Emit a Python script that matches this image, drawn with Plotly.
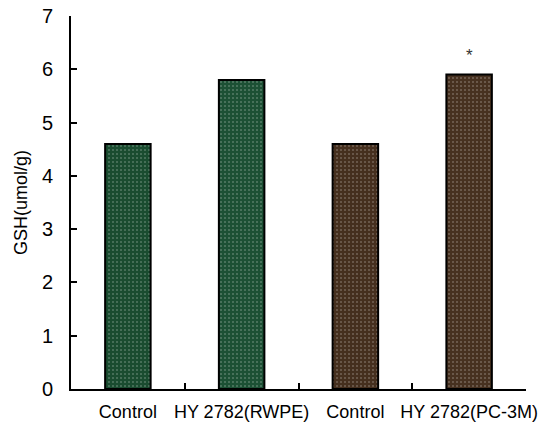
import plotly.graph_objects as go

categories = ["Control", "HY 2782(RWPE)", "Control", "HY 2782(PC-3M)"]
category_ids = ["c1", "c2", "c3", "c4"]
gsh_values = [4.6, 5.8, 4.6, 5.9]
bar_colors = ["#1a4c30", "#1c5034", "#452f1e", "#473120"]
pattern_colors = ["#4a8460", "#4a8460", "#76583c", "#76583c"]
star_label = "*"
star_y = 6.26
y_ticks = [0, 1, 2, 3, 4, 5, 6, 7]

fig = go.Figure()
fig.add_trace(go.Bar(
    x=category_ids,
    y=gsh_values,
    width=0.4,
    marker=dict(
        color=bar_colors,
        line=dict(color="black", width=2),
        pattern=dict(shape=".", fgcolor=pattern_colors, fgopacity=0.25, size=4, solidity=0.2),
    ),
))
fig.add_annotation(x=category_ids[3], y=star_y, text=star_label, showarrow=False,
                   font=dict(size=17, color="#333333"))

font_family = "Liberation Sans, Arial, sans-serif"
fig.update_layout(
    width=538, height=428,
    margin=dict(l=71, r=12, t=16, b=39, autoexpand=False),
    paper_bgcolor="white", plot_bgcolor="white",
    showlegend=False,
    font=dict(family=font_family, size=17, color="black"),
    xaxis=dict(
        type="category",
        categoryorder="array", categoryarray=category_ids,
        tickmode="array", tickvals=category_ids, ticktext=categories,
        tickson="boundaries",
        ticks="inside", ticklen=6, tickwidth=1.5, tickcolor="black",
        showline=True, linecolor="black", linewidth=2,
        showgrid=False, zeroline=False,
        tickfont=dict(size=18),
        tickangle=0,
        automargin=False,
        ticklabelstandoff=5,
        range=[-0.5, 3.5],
    ),
    yaxis=dict(
        range=[0, 7],
        tickmode="array", tickvals=y_ticks,
        ticks="inside", ticklen=6, tickwidth=1.5, tickcolor="black",
        showline=True, linecolor="black", linewidth=2,
        showgrid=False, zeroline=False,
        tickfont=dict(size=20),
        ticklabelstandoff=12,
        ticklabeloverflow="allow",
        automargin=False,
        title=dict(text="GSH(umol/g)", font=dict(size=18), standoff=10),
    ),
)
fig.write_html(
    "out.html",
    config={"displayModeBar": False},
    post_script="document.body.style.margin='0px';document.body.style.overflow='hidden';",
)
